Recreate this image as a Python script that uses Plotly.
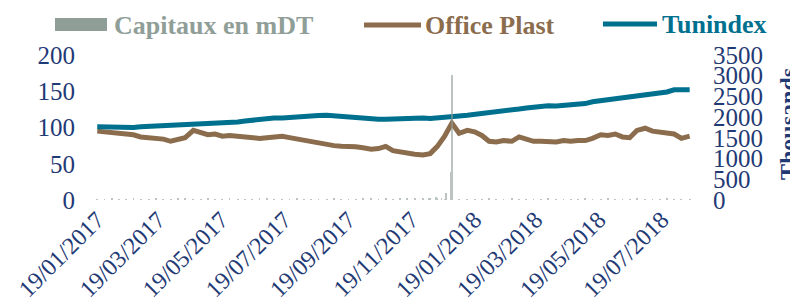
import plotly.graph_objects as go
import pandas as pd

# ---- data ----
start_date = "2017-01-19"
end_date = "2018-08-15"
n_points = 81

office_plast = [95, 94, 94, 93, 92, 90, 87, 86, 86, 84,
                81, 83, 86, 96, 93, 90, 91, 88, 89, 88,
                88, 87, 85, 86, 87, 88, 86, 84, 82, 80,
                79, 77, 75, 74, 74, 73.5, 72, 70, 71, 74,
                68, 66, 65, 63, 62, 64, 74, 88, 106, 92,
                96, 94, 89, 81, 80, 82, 81, 87, 84, 81,
                81, 80, 80, 82, 81, 82, 82, 85, 90, 89,
                91, 87, 86, 96, 99, 95, 94, 92, 91, 85,
                88]

tunindex = [101, 100.5, 100, 100, 100, 100, 101, 101.5, 101.5, 102,
            102, 102.5, 103, 103.5, 104, 104.5, 105, 106, 107, 107.5,
            109, 110, 111, 113, 113, 113, 114, 114, 115, 115.5,
            116.5, 117, 116, 115.5, 114, 113, 112.5, 112, 111.5, 111.5,
            112, 112.5, 113, 113, 113, 112.5, 113, 114, 115.5, 116,
            117, 118, 119, 120.5, 122, 123, 124, 125.5, 127, 128.5,
            129.5, 130, 129.5, 130.5, 131, 131, 133, 135.5, 137, 138.5,
            140.5, 142, 143, 145, 146.5, 147, 147.5, 149, 152, 152.5,
            152]

# capitaux (thousands) on the line dates, small volumes
capitaux_weekly = [20, 15, 25, 10, 20, 30, 15, 20, 25, 15,
                   20, 30, 25, 15, 20, 35, 20, 15, 25, 20,
                   15, 20, 25, 30, 20, 15, 20, 25, 15, 20,
                   20, 15, 25, 20, 15, 20, 25, 30, 20, 25,
                   20, 30, 40, 35, 60, 50, 30, 20, 25, 15,
                   20, 15, 20, 25, 15, 20, 25, 15, 20, 15,
                   20, 25, 15, 20, 15, 20, 25, 15, 20, 25,
                   15, 20, 15, 25, 20, 15, 20, 25, 15, 20,
                   15]
spike_dates = ["2017-12-06", "2017-12-13", "2017-12-18", "2017-12-22", "2017-12-27", "2017-12-28"]
spike_values = [60, 80, 60, 170, 680, 3000]

left_ticks = [0, 50, 100, 150, 200]
right_ticks = [0, 500, 1000, 1500, 2000, 2500, 3000, 3500]
x_tick_dates = ["2017-01-19", "2017-03-19", "2017-05-19", "2017-07-19", "2017-09-19",
                "2017-11-19", "2018-01-19", "2018-03-19", "2018-05-19", "2018-07-19"]

dates = pd.date_range(start_date, end_date, periods=n_points).normalize()
cap_dates = list(dates) + list(pd.to_datetime(spike_dates))
cap_values = capitaux_weekly + spike_values
x_tick_text = [pd.Timestamp(d).strftime("%d/%m/%Y") for d in x_tick_dates]

# ---- style ----
C_CAP = "#909E98"
C_OP = "#8B6D4D"
C_TUN = "#00708F"
C_TXT = "#1F3A75"
FONT = "Liberation Serif"

fig = go.Figure()
fig.add_trace(go.Bar(x=cap_dates, y=cap_values, yaxis="y2", name="Capitaux en mDT",
                     marker=dict(color=C_CAP, line=dict(width=0)), opacity=0.6,
                     width=0.8 * 86400000))
fig.add_trace(go.Scatter(x=dates, y=office_plast, mode="lines", name="Office Plast",
                         line=dict(color=C_OP, width=5)))
fig.add_trace(go.Scatter(x=dates, y=tunindex, mode="lines", name="Tunindex",
                         line=dict(color=C_TUN, width=5)))

# page body adds an 8px offset; positions below are given in window pixels
OFF = 8
WL, WR, WT, WB = 90, 700, 55, 200
L, R, T, B = WL - OFF, WR - OFF, WT - OFF, WB - OFF
FW, FH = 798, 308
W, H = R - L, B - T
def px(x):
    return (x - OFF - L) / W
def py(y):
    return (B - (y - OFF)) / H

shapes = [
    dict(type="rect", xref="paper", yref="paper", x0=px(55), x1=px(107), y0=py(31), y1=py(18),
         fillcolor=C_CAP, line=dict(width=0)),
    dict(type="line", xref="paper", yref="paper", x0=px(364), x1=px(421), y0=py(25), y1=py(25),
         line=dict(color=C_OP, width=5)),
    dict(type="line", xref="paper", yref="paper", x0=px(603), x1=px(657), y0=py(24), y1=py(24),
         line=dict(color=C_TUN, width=5)),
]
annotations = [
    dict(text="<b>Capitaux en mDT</b>", x=px(112), y=py(25), xref="paper", yref="paper",
         xanchor="left", yanchor="middle", showarrow=False, font=dict(family=FONT, size=26, color=C_CAP)),
    dict(text="<b>Office Plast</b>", x=px(423), y=py(25), xref="paper", yref="paper",
         xanchor="left", yanchor="middle", showarrow=False, font=dict(family=FONT, size=26, color=C_OP)),
    dict(text="<b>Tunindex</b>", x=px(660), y=py(24), xref="paper", yref="paper",
         xanchor="left", yanchor="middle", showarrow=False, font=dict(family=FONT, size=26, color=C_TUN)),
    dict(text="<b>Thousands</b>", x=px(788), y=py(124), xref="paper", yref="paper",
         xanchor="center", yanchor="middle", textangle=-90, showarrow=False,
         font=dict(family=FONT, size=24, color=C_TXT)),
]

fig.update_layout(
    width=FW, height=FH,
    margin=dict(l=L, r=FW - R, t=T, b=FH - B, autoexpand=False),
    paper_bgcolor="white", plot_bgcolor="white",
    showlegend=False,
    font=dict(family=FONT, size=24, color=C_TXT),
    bargap=0,
    xaxis=dict(type="date", range=["2017-01-12", "2018-08-25"], automargin=False,
               tickmode="array", tickvals=x_tick_dates, ticktext=x_tick_text,
               tickangle=-45, tickfont=dict(family=FONT, size=24, color=C_TXT),
               showgrid=False, zeroline=False, showline=False, ticks=""),
    yaxis=dict(range=[0, 200], tickmode="array", tickvals=left_ticks, automargin=False,
               showgrid=False, zeroline=False, showline=False, ticks="",
               ticklabelstandoff=14, tickfont=dict(family=FONT, size=25, color=C_TXT)),
    yaxis2=dict(range=[0, 3500], overlaying="y", side="right", tickmode="array", tickvals=right_ticks,
                automargin=False,
                showgrid=False, zeroline=False, showline=False, ticks="",
                ticklabelstandoff=12, tickfont=dict(family=FONT, size=25, color=C_TXT)),
    shapes=shapes,
    annotations=annotations,
)

fig.write_html("out.html")
